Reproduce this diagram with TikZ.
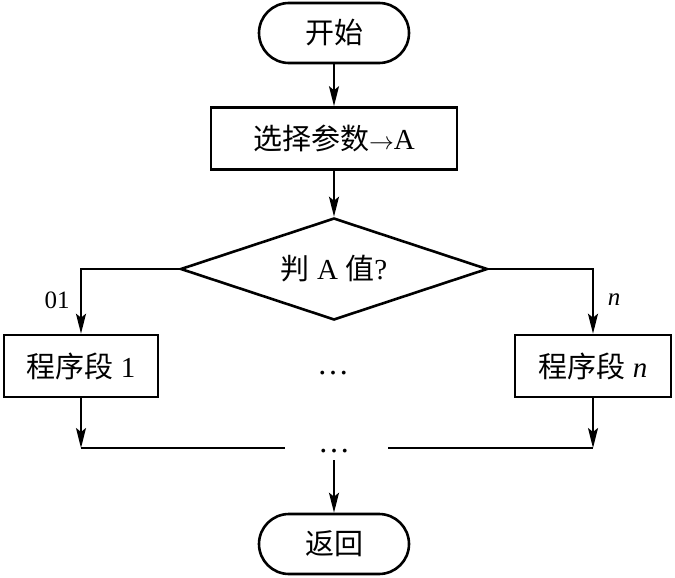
\documentclass[tikz,border=0pt]{standalone}
\usepackage{fontspec}
\setmainfont{Liberation Serif}
\newfontfamily\cjk{Noto Sans CJK SC}
\usetikzlibrary{shapes.geometric,arrows.meta}
\begin{document}
\begin{tikzpicture}[x=1pt,y=-1pt,
  every node/.style={font=\fontsize{29}{33}\selectfont, inner sep=0pt},
  term/.style={draw, line width=2.6pt, rounded corners=30pt, minimum width=150pt, minimum height=60pt},
  proc/.style={draw, line width=2.6pt, minimum height=62pt},
  dec/.style={draw, line width=2.6pt, diamond, aspect=3, minimum width=307pt, minimum height=102pt},
  conn/.style={line width=2pt},
  arr/.style={conn, -{Stealth[length=20pt,width=10pt,inset=4pt]}},
  dots/.style={font=\fontsize{32}{32}\selectfont},
  lbl/.style={font=\fontsize{25}{28}\selectfont}]
\useasboundingbox (0,0) rectangle (675,578);
\node[term] (start) at (334,33) {\cjk 开始};
\node[proc, minimum width=246pt] (param) at (334,138.5) {{\cjk 选择参数}$\rightarrow$A};
\node[dec] (dec) at (334,269) {{\cjk 判} A {\cjk 值}?};
\node[proc, minimum width=154pt] (p1) at (81,366) {{\cjk 程序段} 1};
\node[proc, minimum width=156pt] (pn) at (593,366) {{\cjk 程序段} \textit{n}};
\node[dots] (mdots) at (333,373) {…};
\node[dots] (bdots) at (334,451) {…};
\node[term] (ret) at (334,544) {\cjk 返回};
\node[lbl] (l01) at (57,300) {01};
\node[lbl] (ln) at (614,300) {\textit{n}};
\coordinate (j) at (334,448);
\coordinate (gl) at (285,448);
\coordinate (gr) at (388,448);
\coordinate (jt) at (334,460);
\draw[arr] (start) -- (param);
\draw[arr] (param) -- (dec.north);
\draw[arr] (dec.west) -| (p1.north);
\draw[arr] (dec.east) -| (pn.north);
\draw[arr] (p1.south) -- (p1.south |- j);
\draw[arr] (pn.south) -- (pn.south |- j);
\draw[conn] (p1.south |- j) -- (gl);
\draw[conn] (gr) -- (pn.south |- j);
\draw[arr] (jt) -- (ret.north);
\end{tikzpicture}
\end{document}
